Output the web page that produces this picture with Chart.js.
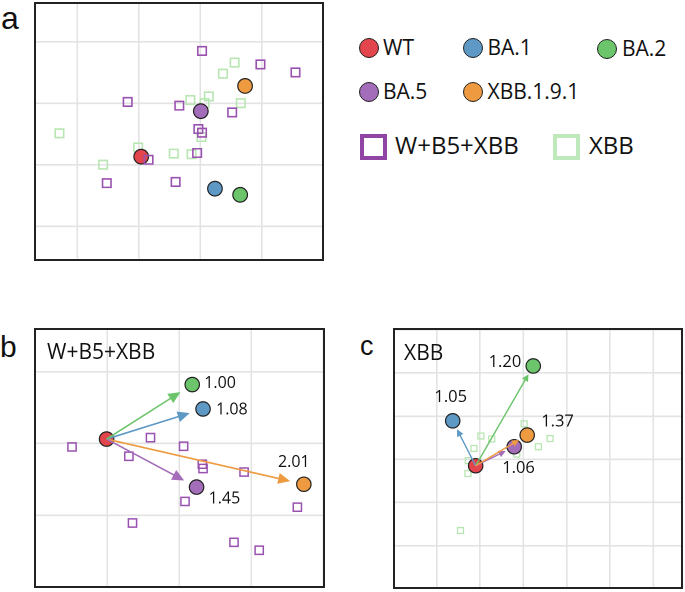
<!DOCTYPE html>
<html><head><meta charset="utf-8">
<script src="https://cdn.jsdelivr.net/npm/chart.js@4"></script>
<style>
body{margin:0;width:685px;height:592px;background:#fff;position:relative;overflow:hidden;font-family:"Open Sans",sans-serif;color:#111;}
.cv{position:absolute;}
.plet{position:absolute;font-family:"Liberation Sans",Arial,sans-serif;line-height:1;color:#111;}
.ptitle{position:absolute;font-size:21px;line-height:1;white-space:nowrap;}
.lg{position:absolute;font-size:21px;line-height:1;white-space:nowrap;}
.dot{position:absolute;width:20px;height:20px;box-sizing:border-box;border:1.6px solid #222;border-radius:50%;}
.sq{position:absolute;box-sizing:border-box;width:27px;height:26px;border:4px solid;}
</style>
</head><body>
<div class="plet" style="left:1px;top:2px;font-size:32px;">a</div>
<div class="plet" style="left:0px;top:332px;font-size:30px;">b</div>
<div class="plet" style="left:360px;top:333px;font-size:27px;">c</div>

<div class="cv" style="left:34px;top:2px;width:290px;height:259px;"><canvas id="ca"></canvas></div>
<div class="cv" style="left:34px;top:328px;width:291px;height:260px;"><canvas id="cb"></canvas></div>
<div class="cv" style="left:393px;top:328px;width:290px;height:261px;"><canvas id="cc"></canvas></div>

<div class="ptitle" id="tb" style="left:47px;top:341px;"></div>
<div class="ptitle" id="tc" style="left:404px;top:342px;"></div>

<div id="legend"></div>

<script>
// ---------- data ----------
const antigens = ['WT', 'BA.1', 'BA.2', 'BA.5', 'XBB.1.9.1'];
const antigenColors = ['#e2454b', '#5e99c6', '#6cc46b', '#a36db9', '#ee9a40'];
const seraGroups = ['W+B5+XBB', 'XBB'];
const seraColors = ['#9a52b0', '#b8e6b2'];

// panel a : full antigenic map (antigen order as above)
const aAntigenX = [1.04, 2.24, 2.65, 2.01, 2.73];
const aAntigenY = [1.13, 0.61, 0.51, 1.87, 2.28];
const aW5XBBX = [2.03, 2.98, 3.55, 0.82, 1.66, 2.52, 1.97, 2.03, 1.95, 1.16, 0.48, 1.60];
const aW5XBBY = [2.85, 2.63, 2.50, 2.02, 1.96, 1.85, 1.58, 1.52, 1.19, 1.08, 0.70, 0.72];
const aXBBX = [2.56, 2.37, 2.14, 1.84, 2.07, 2.66, -0.29, 2.02, 0.99, 1.57, 1.86, 0.42];
const aXBBY = [2.66, 2.48, 2.11, 2.05, 2.00, 2.00, 1.51, 1.45, 1.28, 1.18, 1.17, 1.00];

// panel b : W+B5+XBB sera map
const bAntigenX = [-0.01, 1.33, 1.18, 1.24, 2.73];
const bAntigenY = [0.06, 0.48, 0.82, -0.61, -0.57];
const bSeraX = [-0.49, 0.60, 1.06, 0.30, 1.32, 1.33, 1.90, 1.08, 2.64, 0.35, 1.76, 2.11];
const bSeraY = [-0.05, 0.08, -0.04, -0.18, -0.29, -0.35, -0.40, -0.81, -0.89, -1.11, -1.38, -1.49];
const bDistances = ['', '1.08', '1.00', '1.45', '2.01'];

// panel c : XBB sera map
const cAntigenX = [-0.10, -0.63, 1.23, 0.79, 1.09];
const cAntigenY = [-0.15, 0.89, 2.16, 0.29, 0.56];
const cSeraX = [1.02, 0.02, 0.27, 1.62, -0.14, 1.35, 0.87, 0.85, -0.27, -0.28, -0.45];
const cSeraY = [0.82, 0.54, 0.47, 0.48, 0.25, 0.29, 0.31, 0.12, -0.03, -0.33, -1.65];
const cDistances = ['', '1.05', '1.20', '1.06', '1.37'];

// ---------- helpers ----------
const pts = (xs, ys) => xs.map((x, i) => ({x: x, y: ys[i]}));

const framePlugin = {
  id: 'frame',
  afterDraw(chart) {
    const a = chart.chartArea, ctx = chart.ctx;
    ctx.save();
    ctx.strokeStyle = '#222';
    ctx.lineWidth = 2;
    ctx.strokeRect(a.left + 1, a.top + 1, a.right - a.left - 2, a.bottom - a.top - 2);
    ctx.restore();
  }
};

const arrowPlugin = {
  id: 'arrows',
  afterDatasetsDraw(chart, args, o) {
    if (!o || !o.xs) return;
    const sx = chart.scales.x, sy = chart.scales.y, ctx = chart.ctx;
    const x0 = sx.getPixelForValue(o.xs[0]), y0 = sy.getPixelForValue(o.ys[0]);
    ctx.save();
    o.order.forEach(i => {
      const x1 = sx.getPixelForValue(o.xs[i]), y1 = sy.getPixelForValue(o.ys[i]);
      const dx = x1 - x0, dy = y1 - y0, L = Math.hypot(dx, dy);
      const ux = dx / L, uy = dy / L;
      const tx = x1 - ux * o.gap, ty = y1 - uy * o.gap;
      const bx = tx - ux * o.head, by = ty - uy * o.head;
      ctx.strokeStyle = o.colors[i];
      ctx.fillStyle = o.colors[i];
      ctx.lineWidth = o.width;
      ctx.beginPath();
      ctx.moveTo(x0, y0);
      ctx.lineTo(bx + ux * 1, by + uy * 1);
      ctx.stroke();
      ctx.beginPath();
      ctx.moveTo(tx, ty);
      ctx.lineTo(bx - uy * o.half, by + ux * o.half);
      ctx.lineTo(bx + uy * o.half, by - ux * o.half);
      ctx.closePath();
      ctx.fill();
    });
    ctx.restore();
  }
};

const labelPlugin = {
  id: 'distLabels',
  afterDraw(chart, args, o) {
    if (!o || !o.labels) return;
    const sx = chart.scales.x, sy = chart.scales.y, ctx = chart.ctx;
    ctx.save();
    ctx.font = o.font;
    ctx.fillStyle = '#111';
    ctx.textBaseline = 'middle';
    o.labels.forEach((t, i) => {
      if (!t) return;
      const p = o.place[i];
      ctx.textAlign = p[2];
      ctx.fillText(t, sx.getPixelForValue(o.xs[i]) + p[0], sy.getPixelForValue(o.ys[i]) + p[1]);
    });
    ctx.restore();
  }
};

function axis(min, max, horiz) {
  return {
    type: 'linear', min: min, max: max,
    ticks: {display: false, stepSize: 1, includeBounds: false},
    grid: {color: '#e3e3e3', lineWidth: 1.6, drawTicks: false},
    border: {display: false},
    afterFit: s => { if (horiz) s.height = 0; else s.width = 0; }
  };
}

function makeMap(id, xr, yr, datasets, arrows, labels) {
  return new Chart(document.getElementById(id), {
    type: 'scatter',
    data: {datasets: datasets},
    options: {
      responsive: true, maintainAspectRatio: false, animation: false,
      devicePixelRatio: 2,
      layout: {padding: 0, autoPadding: false},
      clip: false,
      plugins: {legend: {display: false}, tooltip: {enabled: false},
        arrows: arrows, distLabels: labels},
      scales: {x: axis(xr[0], xr[1], true), y: axis(yr[0], yr[1], false)}
    },
    plugins: [framePlugin, arrowPlugin, labelPlugin]
  });
}

function sqSet(label, xs, ys, color, r, bw, order) {
  return {label: label, data: pts(xs, ys), pointStyle: 'rect', pointRadius: r,
    backgroundColor: 'rgba(0,0,0,0)', borderColor: color, borderWidth: bw, order: order};
}
function agSet(xs, ys, r, order) {
  return {label: 'antigens', data: pts(xs, ys), pointStyle: 'circle', pointRadius: r,
    backgroundColor: antigenColors, borderColor: '#222', borderWidth: 1.2, order: order};
}

// panel a
makeMap('ca', [-0.704, 4.014], [-0.566, 3.645], [
  sqSet(seraGroups[0], aW5XBBX, aW5XBBY, seraColors[0], 6.0, 1.6, 0),
  agSet(aAntigenX, aAntigenY, 7.3, 1),
  sqSet(seraGroups[1], aXBBX, aXBBY, seraColors[1], 6.0, 1.6, 2)
], null, null);

// panel b
makeMap('cb', [-1.018, 3.024], [-2.017, 1.609], [
  agSet(bAntigenX, bAntigenY, 7.2, 0),
  sqSet(seraGroups[0], bSeraX, bSeraY, seraColors[0], 5.8, 1.5, 1)
], {xs: bAntigenX, ys: bAntigenY, colors: antigenColors, order: [4, 3, 1, 2], gap: 14, head: 12, half: 5.5, width: 1.6},
   {labels: bDistances, xs: bAntigenX, ys: bAntigenY, font: '16px "Open Sans"',
    place: [null, [13, 1, 'left'], [12, -1, 'left'], [12, 12, 'left'], [-10, -22, 'center']]});

// panel c
makeMap('cc', [-2.009, 4.688], [-3.003, 3.039], [
  agSet(cAntigenX, cAntigenY, 7.2, 0),
  sqSet(seraGroups[1], cSeraX, cSeraY, seraColors[1], 4.2, 1.3, 1)
], {xs: cAntigenX, ys: cAntigenY, colors: antigenColors, order: [2, 1, 3, 4], gap: 9.5, head: 7, half: 3.5, width: 1.4},
   {labels: cDistances, xs: cAntigenX, ys: cAntigenY, font: '16.5px "Open Sans"',
    place: [null, [-2, -23.5, 'center'], [-12, -3.5, 'right'], [-12, 21.5, 'left'], [14, -13.5, 'left']]});

document.getElementById('tb').textContent = seraGroups[0];
document.getElementById('tc').textContent = seraGroups[1];

// legend (HTML)
const lgDots = [[369, 47.7, 383], [473.3, 47.7, 487.5], [606.7, 48.5, 622], [369, 91.7, 383], [473.3, 91.7, 487.5]];
const lg = document.getElementById('legend');
antigens.forEach((name, i) => {
  const p = lgDots[i];
  const d = document.createElement('div');
  d.className = 'dot';
  d.style.left = (p[0] - 10) + 'px'; d.style.top = (p[1] - 10) + 'px';
  d.style.background = antigenColors[i];
  lg.appendChild(d);
  const t = document.createElement('div');
  t.className = 'lg';
  t.textContent = name;
  t.style.left = p[2] + 'px'; t.style.top = (p[1] - 11) + 'px';
  lg.appendChild(t);
});
const lgSq = [[359.5, 133.5, 395], [552.5, 133.5, 589]];
seraGroups.forEach((name, i) => {
  const p = lgSq[i];
  const s = document.createElement('div');
  s.className = 'sq';
  s.style.left = p[0] + 'px'; s.style.top = p[1] + 'px';
  s.style.borderColor = i === 0 ? '#9045a5' : '#bfe9ba';
  lg.appendChild(s);
  const t = document.createElement('div');
  t.className = 'lg';
  t.style.fontSize = '24px';
  t.textContent = name;
  t.style.left = p[2] + 'px'; t.style.top = (p[1] - 1) + 'px';
  lg.appendChild(t);
});
</script>
</body></html>
